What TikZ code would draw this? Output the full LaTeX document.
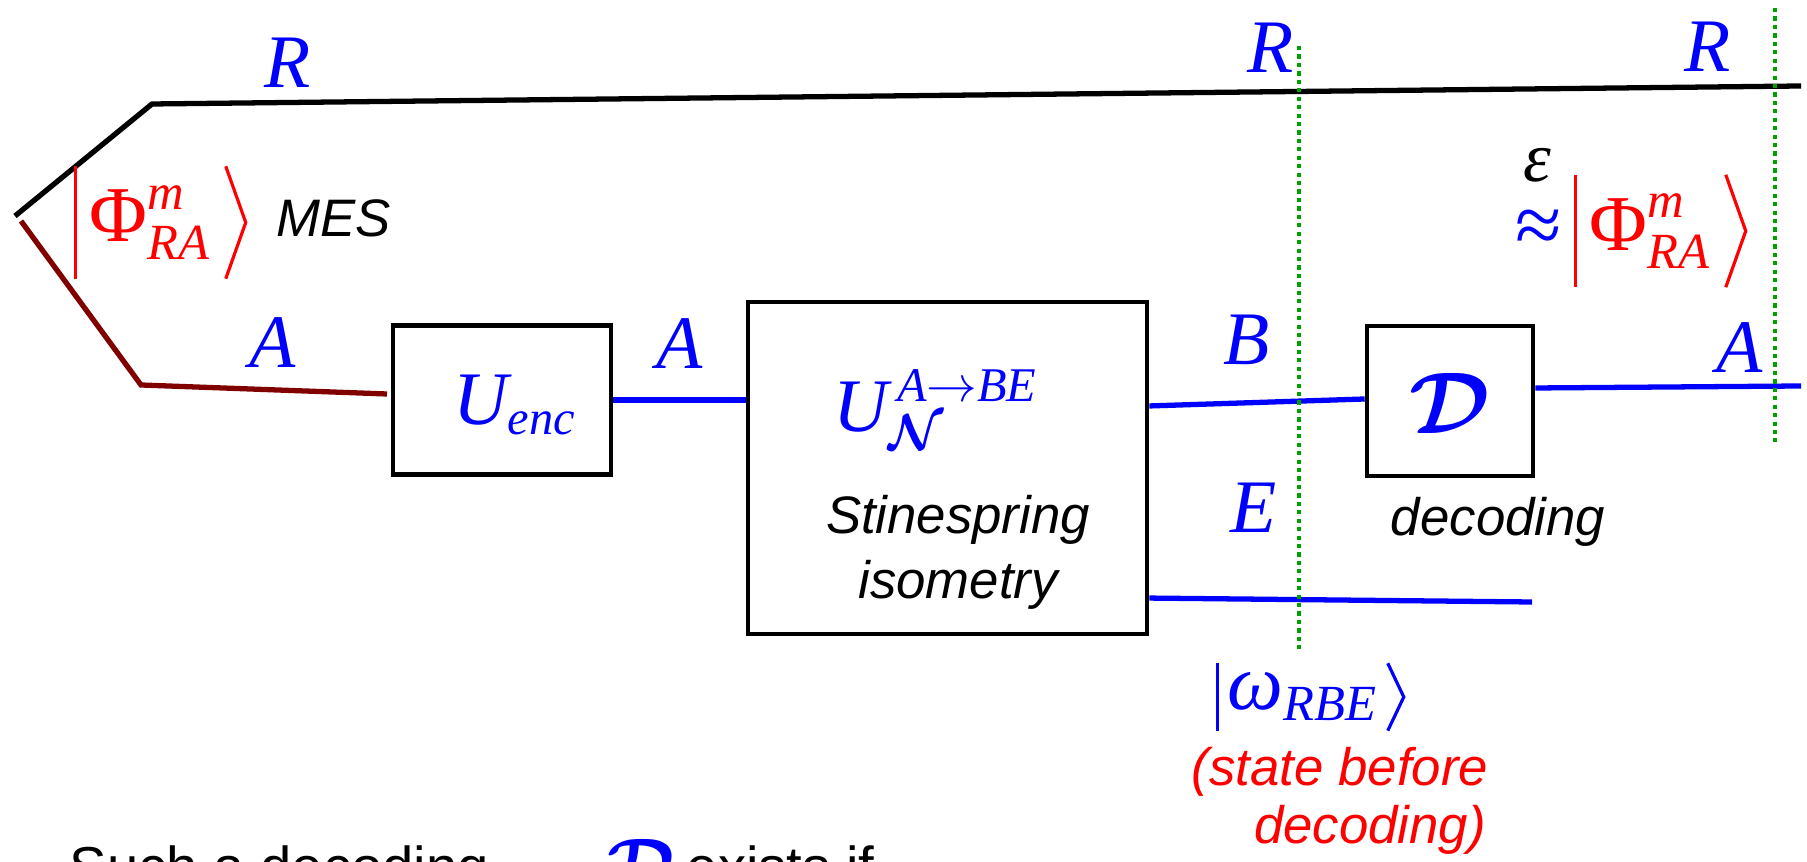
\documentclass[tikz,border=0pt]{standalone}
\usepackage{amsmath}
\usepackage[no-math]{fontspec}
\setmainfont{Liberation Serif}
\setsansfont{Liberation Sans}
\usetikzlibrary{calc}
\def\defaultscriptratio{.64}
\newcommand{\ti}[1]{\textit{#1}}
\definecolor{maroon}{RGB}{128,0,0}
\definecolor{cutgreen}{RGB}{0,160,0}

\begin{document}
\begin{tikzpicture}[x=0.01cm, y=-0.01cm,
    wire/.style={line width=1.5pt},
    gate/.style={draw, line width=1.3pt, inner sep=0pt},
    sysl/.style={font=\fontsize{21.5}{24}\selectfont\itshape, text=blue},
    note/.style={font=\fontsize{15}{18.5}\selectfont\sffamily\itshape},
    ket/.style={inner sep=0pt, minimum width=1.49cm, minimum height=1.11cm, font=\fontsize{22.5}{26}\selectfont},
    bra/.style={line width=0.9pt},
    cut/.style={cutgreen, line width=1.3pt, dash pattern=on 1.2pt off 1.2pt}]
    \useasboundingbox (0,0) rectangle (1807,862);

    % 最大纠缠态 R, A
    \coordinate (mesR) at (15,216);
    \coordinate (cornR) at (152,104);
    \coordinate (endR) at (1801,86);
    \coordinate (mesA) at (21,221);
    \coordinate (cornA) at (141,385);
    \coordinate (encIn) at (387,394);
    \draw[wire] (mesR) -- (cornR) -- (endR);
    \draw[wire, maroon] (mesA) -- (cornA) -- (encIn);
    \node[ket, text=red] (phiL) at (150.5,222.5) {$\text{Φ}^{\ti{m}}_{\ti{RA}}$};
    \draw[bra, red] (phiL.north west) -- (phiL.south west);
    \draw[bra, red] (phiL.north east) -- ($(phiL.east)+(20,0)$) -- (phiL.south east);
    \node[note] (mes) at (334,218) {MES};

    % 编码与信道
    \node[gate, minimum width=2.18cm, minimum height=1.49cm] (enc) at (502,400) {};
    \node[sysl] (uenc) at (515,405) {$\ti{U}_{\ti{enc}}$};
    \node[gate, minimum width=3.99cm, minimum height=3.32cm] (iso) at (947.5,468) {};
    \node[sysl, inner sep=1pt] (uiso) at (936,410) {$\ti{U}^{\,\ti{A}\to\ti{BE}}_{\boldsymbol{\mathcal{N}}}$};
    \node[note, align=center] (stine) at (958,552) {Stinespring\\isometry};
    \draw[wire, blue] (enc.east) -- (enc.east -| iso.west);

    % 解码
    \node[gate, minimum width=1.66cm, minimum height=1.50cm] (dec) at (1450,401) {};
    \node[sysl, font=\fontsize{24}{28}\selectfont] (dsym) at (1450,403) {$\boldsymbol{\mathcal{D}}$};
    \node[note] (decl) at (1498,522) {decoding};
    \coordinate (eEnd) at (1532,602);
    \coordinate (outA) at (1801,386);
    \draw[wire, blue] ([yshift=0.62cm]iso.east) -- ([yshift=0.02cm]dec.west);
    \draw[wire, blue] ([yshift=-1.30cm]iso.east) -- (eEnd);
    \draw[wire, blue] ([yshift=0.13cm]dec.east) -- (outA);

    % 系统标签
    \node[sysl] (r1) at (288,63) {R};
    \node[sysl] (r2) at (1271,48) {R};
    \node[sysl] (r3) at (1708,47) {R};
    \node[sysl] (a1) at (273,343) {A};
    \node[sysl] (a2) at (680,344) {A};
    \node[sysl] (b1) at (1247,340) {B};
    \node[sysl] (e1) at (1254,508) {E};
    \node[sysl] (a3) at (1740,348) {A};

    % 切面
    \coordinate (cutTa) at (1299,46);
    \coordinate (cutBa) at (1299,651);
    \coordinate (cutTb) at (1775,8);
    \coordinate (cutBb) at (1775,442);
    \draw[cut] (cutTa) -- (cutBa);
    \draw[cut] (cutTb) -- (cutBb);

    % 解码前的态
    \node[ket, text=blue, minimum width=1.69cm, minimum height=0.66cm] (omg) at (1302.5,697) {$\text{\itshape ω}_{\ti{RBE}}$};
    \draw[bra, blue] (omg.north west) -- (omg.south west);
    \draw[bra, blue] (omg.north east) -- ($(omg.east)+(16,0)$) -- (omg.south east);
    \node[note, text=red] (stA) at (1340,772) {(state before};
    \node[note, text=red] (stB) at (1370,830) {decoding)};

    % 解码之后
    \node[font=\fontsize{20}{24}\selectfont\itshape, inner sep=0pt] (eps) at (1537,165) {ε};
    \node[sysl, font=\fontsize{24}{28}\selectfont, inner sep=0pt] (apx) at (1539,232) {≈};
    \node[ket, text=red] (phiR) at (1650.5,231) {$\text{Φ}^{\ti{m}}_{\ti{RA}}$};
    \draw[bra, red] (phiR.north west) -- (phiR.south west);
    \draw[bra, red] (phiR.north east) -- ($(phiR.east)+(20,0)$) -- (phiR.south east);

    % 下方文字
    \node[anchor=north west, inner sep=0pt, font=\fontsize{16}{19}\selectfont\sffamily] (such) at (69,845) {Such a decoding};
    \node[anchor=north, inner sep=0pt, sysl] (dbot) at (641,839) {$\boldsymbol{\mathcal{D}}$};
    \node[anchor=north west, inner sep=0pt, font=\fontsize{16}{19}\selectfont\sffamily] (exis) at (686,845) {exists if};
\end{tikzpicture}
\end{document}
